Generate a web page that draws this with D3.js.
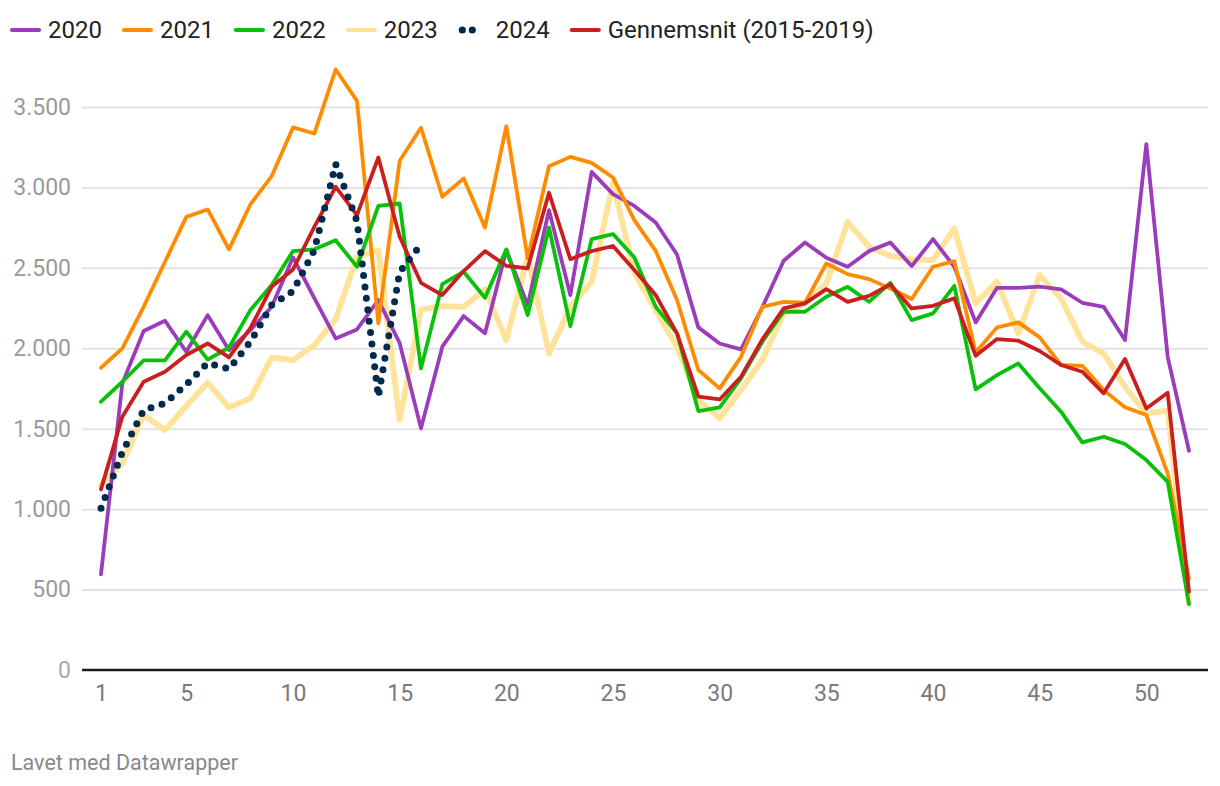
<!DOCTYPE html>
<html>
<head>
<meta charset="utf-8">
<script src="https://cdn.jsdelivr.net/npm/d3@7"></script>
<style>
  html, body { margin: 0; padding: 0; background: #fff; }
  svg { display: block; font-family: Roboto, "Noto Sans", sans-serif; }
</style>
</head>
<body>
<svg id="chart" width="1220" height="786"></svg>
<script>
const weeks = [1,2,3,4,5,6,7,8,9,10,11,12,13,14,15,16,17,18,19,20,21,22,23,24,25,26,27,28,29,30,31,32,33,34,35,36,37,38,39,40,41,42,43,44,45,46,47,48,49,50,51,52];
const xTicks = [1,5,10,15,20,25,30,35,40,45,50];
const yTicks = [0,500,1000,1500,2000,2500,3000,3500];

const y2020 = [595,1782,2107,2171,1978,2206,1989,2113,2258,2565,2312,2061,2117,2300,2032,1502,2010,2200,2093,2610,2268,2859,2331,3097,2958,2885,2782,2583,2130,2030,1993,2255,2544,2658,2563,2507,2604,2658,2511,2679,2507,2161,2376,2376,2383,2366,2283,2258,2051,3269,1947,1363];
const y2021 = [1879,1999,2258,2538,2817,2863,2615,2894,3070,3373,3335,3733,3538,2155,3166,3371,2942,3056,2751,3381,2559,3132,3190,3153,3062,2797,2606,2300,1865,1751,1947,2258,2289,2283,2527,2461,2430,2372,2306,2507,2542,1974,2130,2161,2068,1896,1891,1740,1633,1585,1222,570];
const y2022 = [1668,1792,1925,1925,2103,1930,2005,2237,2393,2604,2615,2672,2507,2886,2900,1875,2399,2476,2314,2615,2206,2751,2138,2679,2710,2565,2258,2093,1610,1633,1813,2041,2227,2227,2320,2382,2289,2407,2175,2217,2388,1745,1833,1906,1751,1606,1415,1450,1405,1305,1170,410];
const y2023 = [1150,1284,1585,1492,1641,1786,1633,1688,1943,1927,2020,2180,2569,2608,1554,2240,2262,2258,2366,2051,2570,1968,2258,2413,3030,2467,2237,2010,1678,1564,1740,1927,2217,2280,2403,2786,2631,2575,2552,2548,2745,2279,2413,2093,2455,2310,2041,1968,1761,1595,1613,414];
const y2024 = [1005,1353,1616,1659,1775,1908,1871,2040,2268,2355,2610,3145,2790,1699,2474,2645];
const yAvg = [1123,1575,1792,1854,1958,2030,1943,2125,2382,2490,2755,3004,2828,3186,2693,2407,2331,2480,2604,2513,2497,2967,2554,2604,2636,2486,2331,2093,1699,1682,1823,2055,2248,2279,2368,2289,2326,2397,2248,2264,2310,1953,2057,2047,1983,1896,1854,1720,1933,1626,1724,487];

const seriesNames = ["2020","2021","2022","2023","2024","Gennemsnit (2015-2019)"];
const seriesValues = [y2020, y2021, y2022, y2023, y2024, yAvg];
const seriesColors = ["#9b3dbb","#ff8c00","#0ac10a","#ffe39b","#002a4e","#c91f1f"];
const seriesWidths = [3.8, 3.8, 3.8, 5.8, 7, 3.8];
const drawOrder = [3, 0, 1, 2, 5, 4];

const svg = d3.select("#chart");
const left = 82, right = 1208;
const x = d3.scaleLinear().domain([1, 52]).range([101, 1189]);
const y = d3.scaleLinear().domain([0, 3500]).range([670, 107]);

const loc = d3.formatLocale({decimal: ",", thousands: ".", grouping: [3], currency: ["", " kr."]});
const fmt = loc.format(",d");

// Y axis with gridlines
const yAxis = svg.append("g")
  .attr("transform", `translate(${left},0)`)
  .call(d3.axisLeft(y).tickValues(yTicks).tickFormat(fmt).tickSize(-(right - left)).tickPadding(11));
yAxis.select(".domain").remove();
yAxis.selectAll(".tick line").attr("stroke", "#e3e3e3").attr("stroke-width", 2);
yAxis.selectAll(".tick text")
  .attr("fill", d => d === 0 ? "#aaaaaa" : "#9a9a9a")
  .style("font-size", "23px")
  .style("font-family", "Roboto");
yAxis.selectAll(".tick").filter(d => d === 0).select("line").remove();

// baseline
svg.append("line")
  .attr("x1", left).attr("x2", right)
  .attr("y1", y(0)).attr("y2", y(0))
  .attr("stroke", "#1d1d1d").attr("stroke-width", 2.5);

// X axis
const xAxis = svg.append("g")
  .attr("transform", `translate(0,${y(0)})`)
  .call(d3.axisBottom(x).tickValues(xTicks).tickSize(0).tickPadding(15));
xAxis.select(".domain").remove();
xAxis.selectAll(".tick text")
  .attr("fill", "#7a7a7a")
  .style("font-size", "23px")
  .style("font-family", "Roboto");

// lines
const line = d3.line().x((d, i) => x(weeks[i])).y(d => y(d));
drawOrder.forEach(k => {
  const p = svg.append("path")
    .datum(seriesValues[k])
    .attr("fill", "none")
    .attr("stroke", seriesColors[k])
    .attr("stroke-width", seriesWidths[k])
    .attr("stroke-linejoin", "round")
    .attr("stroke-linecap", "round")
    .attr("d", line);
  if (k === 4) p.attr("stroke-dasharray", "0 11.5");
});

// legend
const lg = svg.append("g").attr("class", "legend");
let lx = 10;
seriesNames.forEach((name, k) => {
  const g = lg.append("g");
  if (k === 4) {
    [4.5, 14.5].forEach(dx => {
      g.append("circle").attr("cx", lx + dx).attr("cy", 30).attr("r", 3.6)
        .attr("fill", seriesColors[k]);
    });
  } else {
    g.append("line").attr("x1", lx + 2).attr("x2", lx + 29).attr("y1", 30).attr("y2", 30)
      .attr("stroke", seriesColors[k]).attr("stroke-width", 4.2)
      .attr("stroke-linecap", "round");
  }
  const t = g.append("text")
    .attr("x", lx + 38).attr("y", 30)
    .attr("dy", "0.35em")
    .attr("fill", "#222")
    .style("font-size", "24px")
    .style("font-family", "Roboto")
    .text(name);
  lx = lx + 38 + t.node().getComputedTextLength() + 20;
});

// footer
svg.append("text")
  .attr("x", 11).attr("y", 770)
  .attr("fill", "#888")
  .style("font-size", "21.5px")
  .style("font-family", "Roboto")
  .text("Lavet med Datawrapper");
</script>
</body>
</html>
